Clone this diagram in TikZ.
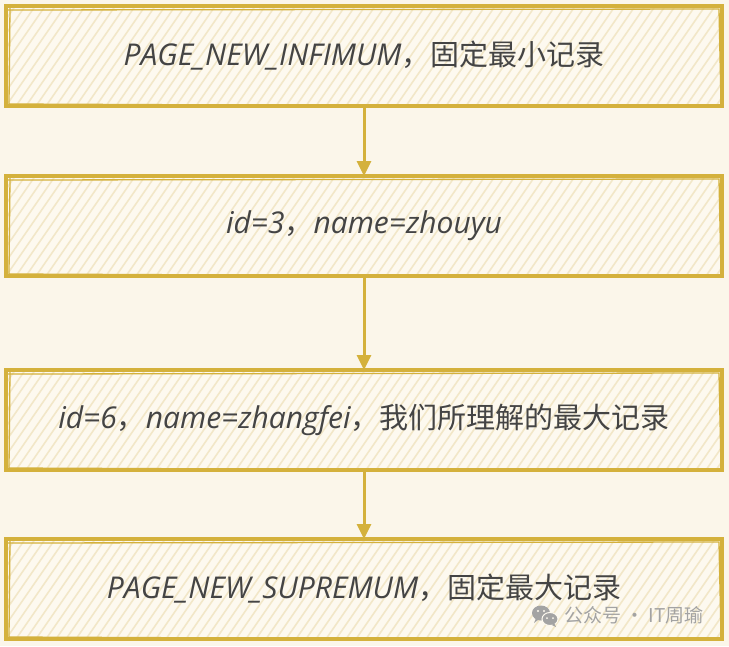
\documentclass[tikz,border=0pt]{standalone}
\usepackage{fontspec}
\setmainfont{Open Sans}
\newfontfamily\latinf{Open Sans}
\newfontfamily\cjkf{Noto Sans CJK SC}
\usetikzlibrary{arrows.meta,positioning}

\definecolor{paper}{HTML}{FBF6EA}
\definecolor{boxfill}{HTML}{FDF9EF}
\definecolor{hatchc}{HTML}{F2E7C8}
\definecolor{gold}{HTML}{D4B13C}
\definecolor{ink}{HTML}{444444}
\definecolor{wmgray}{HTML}{A3A3A3}

\begin{document}
\begin{tikzpicture}[x=1pt,y=-1pt,
  record/.style={draw=gold,line width=3.4pt,fill=boxfill,outer sep=0pt,
    minimum width=716pt,minimum height=100pt,text=ink,
    font=\latinf\itshape\fontsize{30}{34}\selectfont,
    path picture={
      \foreach \k in {0,...,82}
        \draw[hatchc,line width=1.6pt]
        ([xshift=\k*10pt-80pt]path picture bounding box.south west)
        -- ++(72pt,104pt);
    }},
  sketch/.style={gold,line width=1.3pt,line cap=round},
  link/.style={gold,line width=3pt,-{Triangle[width=14pt,length=15pt]}}]

% Background
\fill[paper] (0,0) rectangle (729,646);
\useasboundingbox (0,0) rectangle (729,646);

% Boxes
\node[record] (b1) at (364,56)
  {PAGE\_NEW\_INFIMUM{\cjkf\upshape\fontsize{29}{34}\selectfont ，固定最小记录}};
\node[record,below=70pt of b1] (b2)
  {id=3{\cjkf\upshape\fontsize{29}{34}\selectfont ，}name=zhouyu};
\node[record,below=94pt of b2] (b3)
  {id=6{\cjkf\upshape\fontsize{29}{34}\selectfont ，}name=zhangfei{\cjkf\upshape\fontsize{29}{34}\selectfont ，我们所理解的最大记录}};
\node[record,below=69pt of b3] (b4)
  {PAGE\_NEW\_SUPREMUM{\cjkf\upshape\fontsize{29}{34}\selectfont ，固定最大记录}};

% Second pencil stroke
\foreach \b in {b1,b2,b3,b4}{
  \draw[sketch]
    ([shift={(2pt,-4pt)}]\b.north west) -- ([shift={(-3pt,-3pt)}]\b.north east)
    -- ([shift={(-1pt,3pt)}]\b.south east);
  \draw[sketch]
    ([shift={(4pt,-2pt)}]\b.north west) -- ([shift={(3pt,2pt)}]\b.south west)
    -- ([shift={(-2pt,-1pt)}]\b.south east);
}

% Arrows
\draw[link] (b1.south) -- (b2.north);
\draw[link] (b2.south) -- (b3.north);
\draw[link] (b3.south) -- (b4.north);

% Watermark
\fill[wmgray] (541,613) ellipse (9pt and 7.5pt);
\fill[wmgray] (534,623) -- (536,618) -- (538,620) -- cycle;
\filldraw[fill=wmgray,draw=boxfill,line width=1pt] (550,619) ellipse (8pt and 6.5pt);
\fill[wmgray] (556,627) -- (554,623) -- (552,625) -- cycle;
\fill[boxfill] (538,611) circle (1.2pt) (544,611) circle (1.2pt);
\fill[boxfill] (547,618) circle (1pt) (553,618) circle (1pt);
\node[anchor=west,text=wmgray,font=\cjkf\fontsize{19}{23}\selectfont,inner sep=0pt]
  (wm) at (564,615) {公众号 · IT周瑜};

\end{tikzpicture}
\end{document}
